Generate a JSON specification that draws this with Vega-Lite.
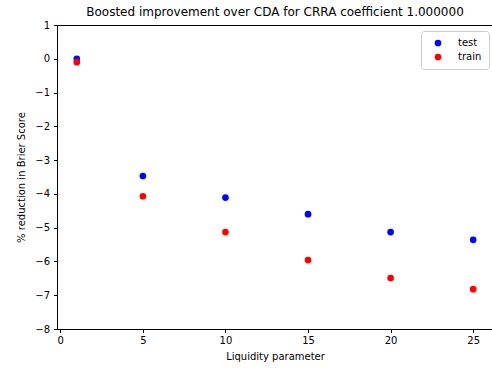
{
  "$schema": "https://vega.github.io/schema/vega-lite/v6.json",
  "width": 436,
  "height": 304,
  "autosize": {"type": "none"},
  "padding": {"left": 57, "top": 25, "right": 0, "bottom": 41},
  "background": "white",
  "title": {
    "text": "Boosted improvement over CDA for CRRA coefficient 1.000000",
    "font": "DejaVu Sans",
    "fontSize": 12,
    "fontWeight": "normal",
    "color": "#000",
    "anchor": "middle",
    "offset": 1
  },
  "config": {
    "view": {"stroke": "#000", "strokeWidth": 1},
    "axis": {
      "grid": false,
      "domainColor": "#000",
      "domainWidth": 1,
      "tickColor": "#000",
      "tickSize": 3.5,
      "tickWidth": 1,
      "labelFont": "DejaVu Sans",
      "labelFontSize": 10,
      "labelColor": "#000",
      "titleFont": "DejaVu Sans",
      "titleFontSize": 10,
      "titleFontWeight": "normal",
      "titleColor": "#000"
    }
  },
  "data": {
    "values": [
      {"liquidity": 1, "reduction": 0.0, "set": "test"},
      {"liquidity": 5, "reduction": -3.47, "set": "test"},
      {"liquidity": 10, "reduction": -4.11, "set": "test"},
      {"liquidity": 15, "reduction": -4.6, "set": "test"},
      {"liquidity": 20, "reduction": -5.13, "set": "test"},
      {"liquidity": 25, "reduction": -5.36, "set": "test"},
      {"liquidity": 1, "reduction": -0.1, "set": "train"},
      {"liquidity": 5, "reduction": -4.07, "set": "train"},
      {"liquidity": 10, "reduction": -5.13, "set": "train"},
      {"liquidity": 15, "reduction": -5.96, "set": "train"},
      {"liquidity": 20, "reduction": -6.49, "set": "train"},
      {"liquidity": 25, "reduction": -6.82, "set": "train"}
    ]
  },
  "mark": {"type": "circle", "size": 45, "opacity": 1},
  "encoding": {
    "x": {
      "field": "liquidity",
      "type": "quantitative",
      "scale": {"domain": [-0.2, 26.2], "nice": false, "zero": false},
      "axis": {
        "values": [0, 5, 10, 15, 20, 25],
        "title": "Liquidity parameter",
        "labelPadding": 3,
        "titlePadding": 6
      }
    },
    "y": {
      "field": "reduction",
      "type": "quantitative",
      "scale": {"domain": [-8, 1], "nice": false, "zero": false},
      "axis": {
        "values": [-8, -7, -6, -5, -4, -3, -2, -1, 0, 1],
        "title": "% reduction in Brier Score",
        "labelPadding": 4,
        "titlePadding": 8
      }
    },
    "color": {
      "field": "set",
      "type": "nominal",
      "scale": {"domain": ["test", "train"], "range": ["#0000ff", "#ff0000"]},
      "legend": {
        "title": null,
        "orient": "none",
        "legendX": 364,
        "legendY": 6,
        "fillColor": "white",
        "strokeColor": "#cccccc",
        "cornerRadius": 3,
        "padding": 7,
        "symbolType": "circle",
        "symbolSize": 45,
        "symbolStrokeWidth": 0,
        "symbolOffset": 5,
        "labelFont": "DejaVu Sans",
        "labelFontSize": 10,
        "labelColor": "#000",
        "labelOffset": 15,
        "rowPadding": 4
      }
    }
  }
}
